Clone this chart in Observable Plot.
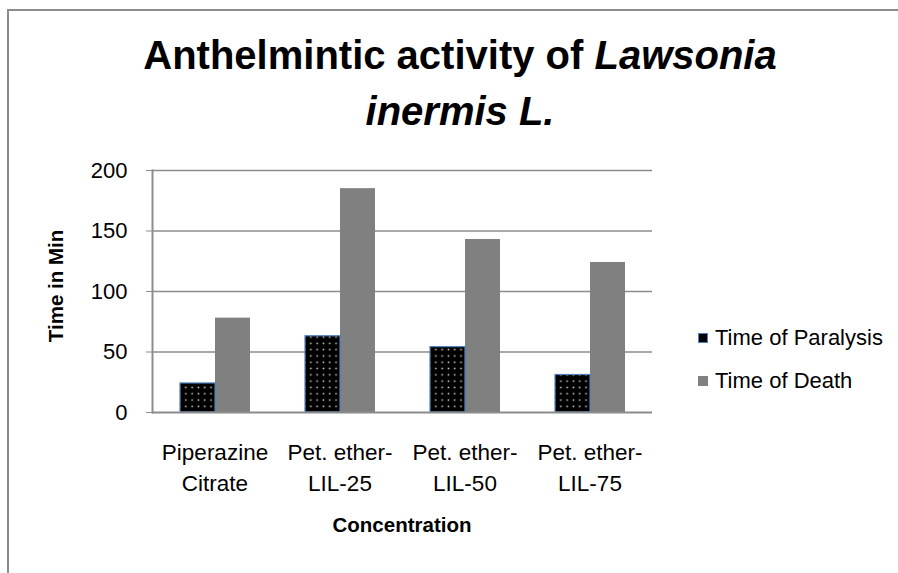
<!DOCTYPE html>
<html>
<head>
<meta charset="utf-8">
<script src="https://cdn.jsdelivr.net/npm/d3@7"></script>
<script src="https://cdn.jsdelivr.net/npm/@observablehq/plot@0.6"></script>
<style>
  html, body { margin: 0; padding: 0; background: #fff; }
  #wrap { position: relative; width: 898px; height: 573px; overflow: hidden; background: #fff;
          font-family: "Liberation Sans", Arial, sans-serif; color: #000; }
  #frame { position: absolute; left: 7px; top: 9px; width: 1000px; height: 1000px;
           border-left: 2px solid #8c8c8c; border-top: 2px solid #8c8c8c; }
  #chart { position: absolute; left: 0; top: 0; }
  #title { position: absolute; left: 80px; width: 760px; top: 27px; text-align: center;
           font-family: "Liberation Sans", sans-serif; font-weight: bold;
           font-size: 40px; line-height: 56px; white-space: nowrap; }
  #ytitle { position: absolute; left: 56px; top: 286px; transform: translate(-50%, -50%) rotate(-90deg);
            font-family: "Liberation Sans", sans-serif; font-weight: bold;
            font-size: 20.5px; white-space: nowrap; }
  #xtitle { position: absolute; left: 402px; top: 525px; transform: translate(-50%, -50%);
            font-family: "Liberation Sans", sans-serif; font-weight: bold;
            font-size: 20.5px; white-space: nowrap; }
  .leg { position: absolute; left: 698px; font-size: 22px; white-space: nowrap; display: flex; align-items: center; }
  .sw { width: 10px; height: 10px; margin-right: 7px; box-sizing: border-box; }
</style>
</head>
<body>
<div id="wrap">
  <div id="frame"></div>
  <div id="chart"></div>
  <div id="title">Anthelmintic activity of <i>Lawsonia</i><br><i>inermis L.</i></div>
  <div id="ytitle">Time in Min</div>
  <div id="xtitle">Concentration</div>
  <div class="leg" style="top:325px"><div class="sw" style="background:#000;border:1.5px solid #4f81bd"></div>Time of Paralysis</div>
  <div class="leg" style="top:368px"><div class="sw" style="background:#808080"></div>Time of Death</div>
</div>
<script>
const categories = ["Piperazine Citrate", "Pet. ether-LIL-25", "Pet. ether-LIL-50", "Pet. ether-LIL-75"];
const categoryLabels = ["Piperazine\nCitrate", "Pet. ether-\nLIL-25", "Pet. ether-\nLIL-50", "Pet. ether-\nLIL-75"];
const seriesNames = ["Time of Paralysis", "Time of Death"];
const paralysis = [24, 63, 54, 31];
const death = [78, 185, 143, 124];
const yTicks = [0, 50, 100, 150, 200];

const rows = [];
categories.forEach((c, i) => {
  rows.push({category: c, series: seriesNames[0], value: paralysis[i]});
  rows.push({category: c, series: seriesNames[1], value: death[i]});
});
const labelOf = new Map(categories.map((c, i) => [c, categoryLabels[i]]));

const chart = Plot.plot({
  width: 898,
  height: 573,
  marginLeft: 152,
  marginRight: 246,
  marginTop: 170,
  marginBottom: 161,
  style: {fontFamily: "'Liberation Sans', Arial, sans-serif", fontSize: "21px", color: "#000", background: "transparent"},
  fx: {domain: categories, padding: 0},
  x: {domain: seriesNames, paddingInner: 0, paddingOuter: 0.76, axis: null},
  y: {domain: [0, 200]},
  marks: [
    Plot.ruleY(yTicks.slice(1), {stroke: "#8c8c8c", strokeWidth: 1.5}),
    Plot.barY(rows.filter(d => d.series === seriesNames[1]), {fx: "category", x: "series", y: "value", fill: "#808080"}),
    Plot.barY(rows.filter(d => d.series === seriesNames[0]), {fx: "category", x: "series", y: "value", fill: "url(#dots)", stroke: "#4f81bd", strokeWidth: 1.2}),
    Plot.ruleY([0], {stroke: "#8c8c8c", strokeWidth: 2}),
    Plot.axisY({ticks: yTicks, tickSize: 6, tickPadding: 19, stroke: "#8c8c8c", label: null, fontSize: 22}),
    Plot.axisFx({anchor: "bottom", tickSize: 0, tickPadding: 25, label: null, fontSize: 22.5,
                 lineHeight: 1.4, tickFormat: d => labelOf.get(d)}),
    Plot.frame({anchor: "left", fx: [categories[0]], stroke: "#8c8c8c", strokeWidth: 2})
  ]
});

// dotted pattern for the paralysis bars
const ns = "http://www.w3.org/2000/svg";
const defs = document.createElementNS(ns, "defs");
defs.innerHTML = `<pattern id="dots" patternUnits="userSpaceOnUse" width="6.3" height="6.3">
  <rect width="6.3" height="6.3" fill="#000"></rect>
  <rect x="2.4" y="2.4" width="1.5" height="1.5" fill="#d8d8d8"></rect>
</pattern>`;
chart.insertBefore(defs, chart.firstChild);
document.getElementById("chart").appendChild(chart);
</script>
</body>
</html>
